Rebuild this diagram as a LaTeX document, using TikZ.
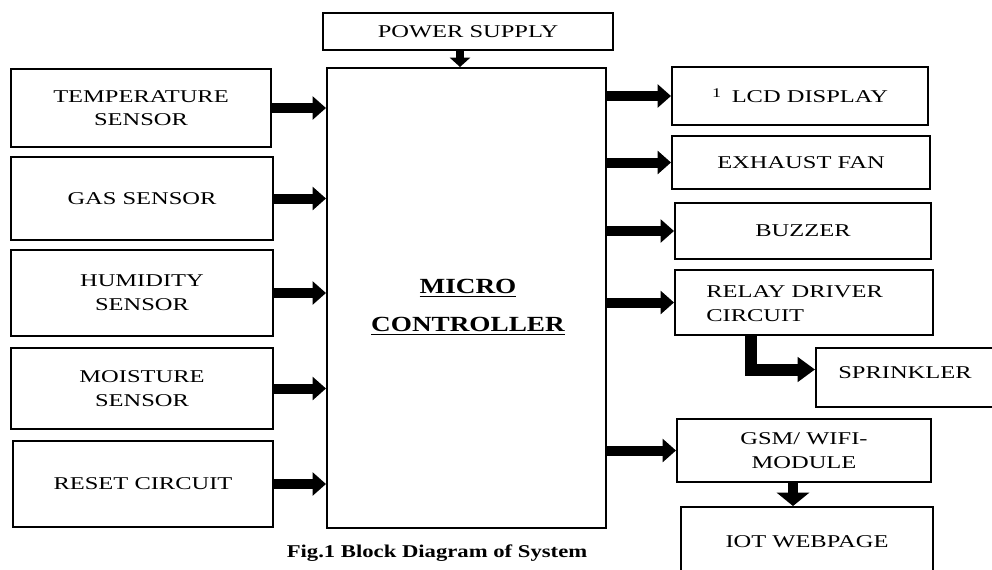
\documentclass[tikz,border=0pt]{standalone}
\usepackage{fontspec}
\setmainfont{Liberation Serif}[FakeStretch=1.36]
\newfontfamily\capfont{Liberation Serif}[FakeStretch=1.26]
\usetikzlibrary{arrows.meta,calc}
\begin{document}
\begin{tikzpicture}[x=0.75pt,y=-0.75pt,
  box/.style={draw, line width=1.5pt, inner sep=0pt, align=center,
    font=\fontsize{13.5}{18}\selectfont},
  txt/.style={inner sep=0pt, align=left, font=\fontsize{13.5}{18}\selectfont},
  bigarrow/.style={line width=7.5pt, line cap=butt, -{Triangle[length=10pt,width=17pt]}},
  smallarrow/.style={line width=5.5pt, line cap=butt, -{Triangle[length=7pt,width=15pt]}},
  downarrow/.style={line width=8pt, line cap=butt, -{Triangle[length=10pt,width=24pt]}},
  elbowarrow/.style={line width=9pt, line cap=butt, line join=miter, -{Triangle[length=13pt,width=18pt]}}
]
\useasboundingbox (0,0) rectangle (992,569);
% centre
\node[box, minimum width=290*0.75pt, minimum height=37*0.75pt] (ps) at (468,31.5) {POWER SUPPLY};
\node[box, minimum width=279*0.75pt, minimum height=460*0.75pt] (mc) at (466.5,298) {};
\node[inner sep=0pt, align=center, font=\capfont\fontsize{16.2}{28.5}\selectfont\bfseries] (mctxt) at (468,307)
  {\underline{MICRO}\\\underline{CONTROLLER}};
% left
\node[box, minimum width=260*0.75pt, minimum height=78*0.75pt] (temp) at (141,108) {TEMPERATURE\\[-1pt]SENSOR};
\node[box, minimum width=262*0.75pt, minimum height=83*0.75pt] (gas) at (142,198.5) {GAS SENSOR};
\node[box, minimum width=262*0.75pt, minimum height=86*0.75pt] (hum) at (142,293) {HUMIDITY\\SENSOR};
\node[box, minimum width=262*0.75pt, minimum height=81*0.75pt] (moist) at (142,388.5) {MOISTURE\\SENSOR};
\node[box, minimum width=260*0.75pt, minimum height=86*0.75pt] (reset) at (143,484) {RESET CIRCUIT};
% right
\node[box, minimum width=256*0.75pt, minimum height=58*0.75pt] (lcd) at (800,96)
  {\raisebox{4pt}{\fontsize{10}{10}\selectfont 1}\hspace{8pt}LCD DISPLAY};
\node[box, minimum width=258*0.75pt, minimum height=53*0.75pt] (exh) at (801,162.5) {EXHAUST FAN};
\node[box, minimum width=256*0.75pt, minimum height=56*0.75pt] (buz) at (803,231) {BUZZER};
\node[box, minimum width=258*0.75pt, minimum height=65*0.75pt] (relay) at (804,302.5) {};
\node[txt, anchor=west] (relaytxt) at (706,304) {RELAY DRIVER\\CIRCUIT};
\node[box, minimum width=200*0.75pt, minimum height=59*0.75pt] (spr) at (916,377.5) {};
\node[txt, anchor=center] (sprtxt) at (905,373) {SPRINKLER};
\node[box, minimum width=254*0.75pt, minimum height=63*0.75pt] (gsm) at (804,450.5) {GSM/ WIFI-\\MODULE};
\node[box, minimum width=252*0.75pt, minimum height=70*0.75pt] (iot) at (807,542) {IOT WEBPAGE};
% caption
\node[inner sep=0pt, font=\capfont\fontsize{13.5}{16}\selectfont\bfseries] (cap) at (437,553) {Fig.1 Block Diagram of System};
% arrows left
\foreach \n in {temp,gas,hum,moist,reset}
  \draw[bigarrow] (\n.east) -- (\n.east -| mc.west);
% arrows right
\foreach \n in {lcd,exh,buz,relay,gsm}
  \draw[bigarrow] (\n.west -| mc.east) -- (\n.west);
% power
\draw[smallarrow] ($(ps.south)+(-8,0)$) -- ($(mc.north)+(-6.5,0)$);
% relay to sprinkler
\draw[elbowarrow] ($(relay.south west)+(77,0)$) |- ($(spr.west)+(0,-8)$);
% gsm to iot
\draw[downarrow] ($(gsm.south)+(-11,0)$) -- ($(gsm.south |- iot.north)+(-11,0)$);
\end{tikzpicture}
\end{document}
